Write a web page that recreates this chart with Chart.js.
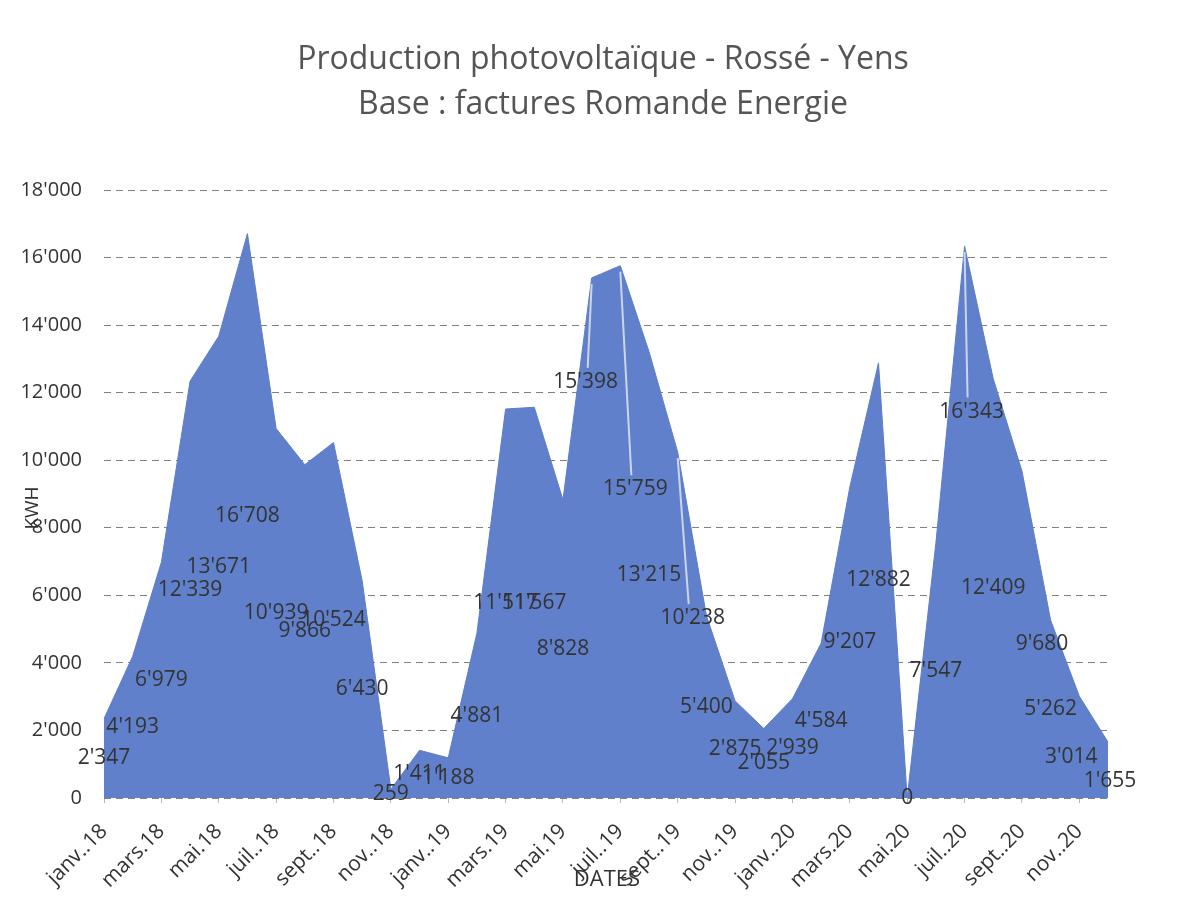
<!DOCTYPE html>
<html>
<head>
<meta charset="utf-8">
<script src="https://cdn.jsdelivr.net/npm/chart.js@4.4.0/dist/chart.umd.min.js"></script>
<style>
html,body{margin:0;padding:0;background:#fff;}
#wrap{width:1195px;height:898px;position:relative;}
</style>
</head>
<body>
<div id="wrap"><canvas id="c" width="1195" height="898"></canvas></div>
<script>
const categories = [
  "janv..18","févr..18","mars.18","avr..18","mai.18","juin.18","juil..18","août.18","sept..18","oct..18","nov..18","déc..18",
  "janv..19","févr..19","mars.19","avr..19","mai.19","juin.19","juil..19","août.19","sept..19","oct..19","nov..19","déc..19",
  "janv..20","févr..20","mars.20","avr..20","mai.20","juin.20","juil..20","août.20","sept..20","oct..20","nov..20","déc..20"
];
const production = [
  2347, 4193, 6979, 12339, 13671, 16708, 10939, 9866, 10524, 6430, 259, 1411,
  1188, 4881, 11517, 11567, 8828, 15398, 15759, 13215, 10238, 5400, 2875, 2055,
  2939, 4584, 9207, 12882, 0, 7547, 16343, 12409, 9680, 5262, 3014, 1655
];
const yTicks = [0, 2000, 4000, 6000, 8000, 10000, 12000, 14000, 16000, 18000];
const titleLines = ["Production photovoltaïque - Rossé - Yens", "Base : factures Romande Energie"];
const xTitle = "DATES";
const yTitle = "KWH";

function fmt(n){ return String(n).replace(/\B(?=(\d{3})+(?!\d))/g, "'"); }

const FONT = "'Open Sans', 'Liberation Sans', sans-serif";

// label placement style: fraction of the value where the label sits (default 0.5), x nudge in px,
// and whether a leader line is drawn (labels that were dragged in the original)
const labelStyle = {
  17: { frac: 0.80, dx: -6, leader: true },
  18: { frac: 0.58, dx: 15, leader: true },
  20: { frac: 0.52, dx: 15, leader: true },
  30: { frac: 0.70, dx: 7, leader: true },
  32: { frac: 0.47, dx: 20 },
  34: { frac: 0.40, dx: -8 },
  35: { frac: 0.30, dx: 2 }
};

const decor = {
  id: 'decor',
  afterDatasetsDraw(chart){
    const ctx = chart.ctx;
    const meta = chart.getDatasetMeta(0);
    const ys = chart.scales.y;
    const ca = chart.chartArea;
    ctx.save();
    ctx.font = "21px " + FONT;
    ctx.textAlign = "center";
    ctx.textBaseline = "middle";
    production.forEach((v, i) => {
      const st = labelStyle[i] || { frac: 0.5, dx: 0 };
      const px = meta.data[i].x;
      const py = meta.data[i].y;
      const x = px + st.dx;
      const y = ys.getPixelForValue(v * st.frac);
      if (st.leader) {
        ctx.strokeStyle = 'rgba(215,222,235,0.9)';
        ctx.lineWidth = 2;
        ctx.beginPath();
        ctx.moveTo(px, py + 6);
        ctx.lineTo(x + (px < x ? -4 : 2), y - 14);
        ctx.stroke();
      }
      ctx.fillStyle = "#333333";
      ctx.fillText(fmt(v), x, y);
    });
    // axis titles
    ctx.fillStyle = "#333333";
    ctx.font = "22px " + FONT;
    ctx.fillText(xTitle, (ca.left + ca.right) / 2 + 1, 880);
    ctx.save();
    ctx.translate(33, 508);
    ctx.rotate(-Math.PI / 2);
    ctx.font = "19px " + FONT;
    ctx.fillText(yTitle, 0, 0);
    ctx.restore();
    // chart title
    ctx.fillStyle = "#555555";
    ctx.font = "32px " + FONT;
    ctx.fillText(titleLines[0], 603, 60);
    ctx.fillText(titleLines[1], 603, 105);
    ctx.restore();
  }
};

new Chart(document.getElementById('c'), {
  type: 'line',
  data: {
    labels: categories,
    datasets: [{
      data: production,
      fill: 'origin',
      backgroundColor: '#6080cb',
      borderColor: '#5d7dc9',
      borderWidth: 1,
      pointRadius: 0,
      tension: 0
    }]
  },
  options: {
    responsive: false,
    animation: false,
    layout: { padding: { left: 14, right: 87, top: 190, bottom: 0 } },
    plugins: {
      legend: { display: false },
      tooltip: { enabled: false },
      title: { display: false }
    },
    scales: {
      x: {
        offset: false,
        grid: {
          display: true,
          drawOnChartArea: false,
          drawTicks: true,
          tickLength: 5,
          color: (c) => (c.index % 2 === 0 ? '#b8b8b8' : 'rgba(0,0,0,0)')
        },
        border: { display: false },
        ticks: {
          autoSkip: false,
          maxRotation: 45,
          minRotation: 45,
          padding: 16,
          color: '#333333',
          font: { family: FONT, size: 21 },
          callback: function(val, idx){ return idx % 2 === 0 ? this.getLabelForValue(val) : ''; }
        },
        afterFit(scale){ scale.height = 100; }
      },
      y: {
        min: 0,
        max: 18000,
        grid: { color: '#808080', drawTicks: false, lineWidth: 1 },
        border: { display: false, dash: [7, 5] },
        ticks: {
          stepSize: 2000,
          padding: 22,
          color: '#333333',
          font: { family: FONT, size: 20 },
          callback: (v) => yTicks.includes(v) ? fmt(v) : ''
        },
        afterFit(scale){ scale.width = 90; }
      }
    }
  },
  plugins: [decor]
});
</script>
</body>
</html>
